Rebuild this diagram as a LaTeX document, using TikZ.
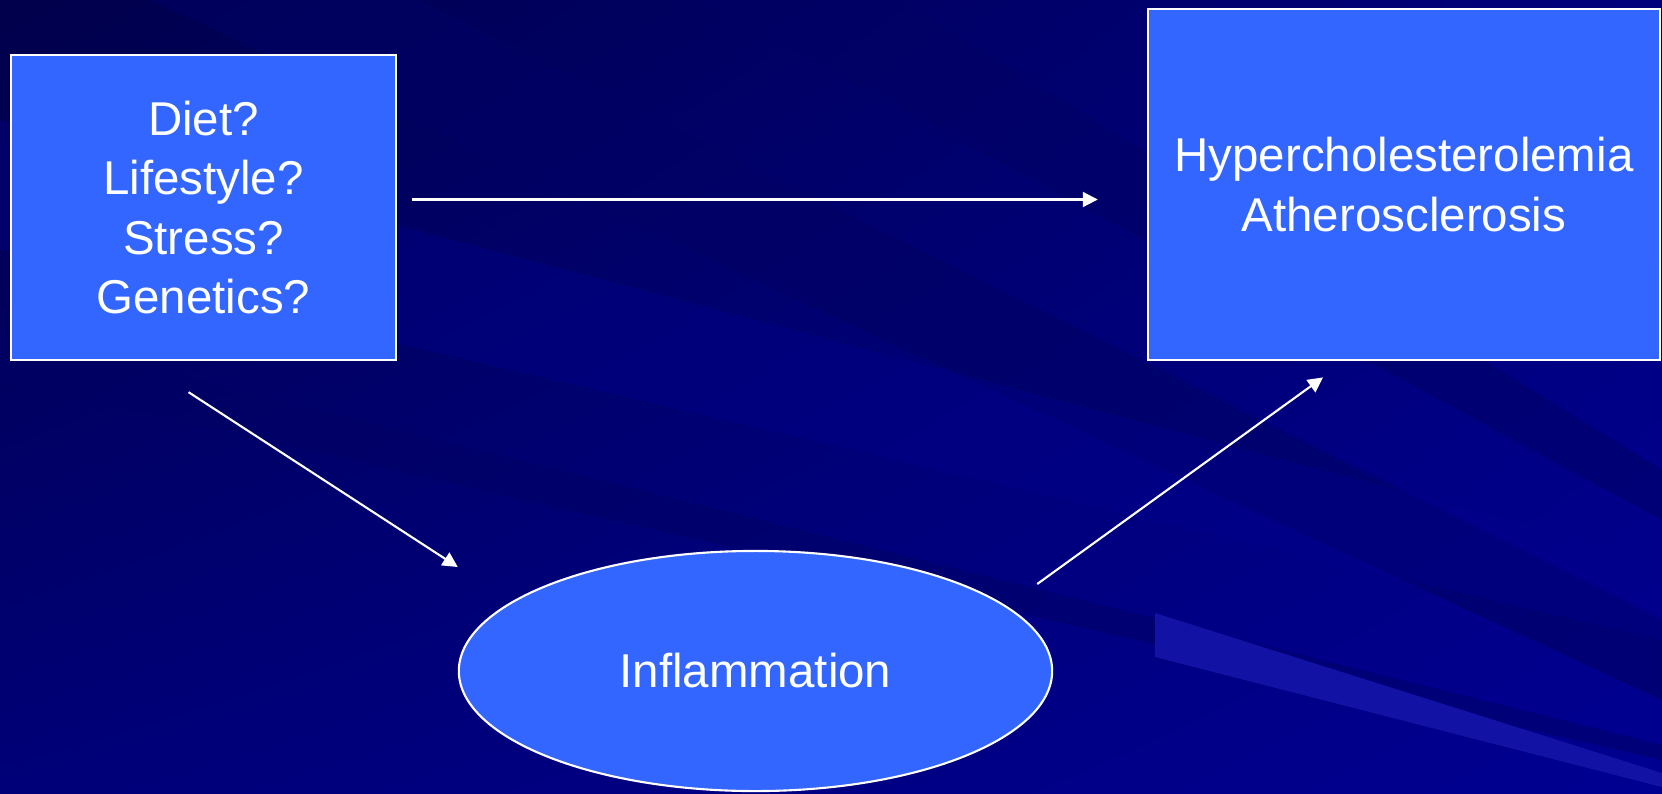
\documentclass[tikz,border=0pt]{standalone}
\usepackage{fontspec}
\setmainfont{Liberation Sans}
\usepackage{xcolor}
\usepackage{tikz}
\usetikzlibrary{arrows.meta}
\usetikzlibrary{shapes.geometric}
\usetikzlibrary{shadings}
\usetikzlibrary{calc}

\definecolor{slidebg}{RGB}{0,0,140}
\definecolor{bgtl}{RGB}{0,0,75}
\definecolor{bgtr}{RGB}{0,0,125}
\definecolor{bgbl}{RGB}{0,0,120}
\definecolor{bgbr}{RGB}{0,0,145}
\definecolor{streakdark}{RGB}{0,0,100}
\definecolor{streaklight}{RGB}{18,18,165}
\definecolor{boxblue}{RGB}{51,102,255}

\begin{document}
\begin{tikzpicture}[x=0.01cm,y=-0.01cm,
	box/.style={draw=white,line width=0.6pt,fill=boxblue,text=white,align=center,inner sep=0pt,font=\fontsize{13.5pt}{16.8pt}\selectfont},
	arr/.style={draw=white,line width=0.6pt,-{Triangle[length=0.15cm,width=0.15cm]}}]
	% background
	\shade[upper left=bgtl,upper right=bgtr,lower left=bgbl,lower right=bgbr]
		(0,0) rectangle (1662,793);
	\useasboundingbox (0,0) rectangle (1662,793);
	\fill[streakdark,opacity=0.6] (150,0) -- (420,0) -- (1662,620) -- (1662,700) -- cycle;
	\fill[streakdark,opacity=0.5] (0,330) -- (1662,745) -- (1662,760) -- (0,380) -- cycle;
	\fill[streakdark,opacity=0.5] (700,0) -- (900,0) -- (1662,470) -- (1662,520) -- cycle;
	\fill[slidebg,opacity=0.4] (0,120) -- (1662,560) -- (1662,640) -- (0,250) -- cycle;
	\fill[streaklight] (1155,613) -- (1662,773) -- (1662,787) -- (1155,657) -- cycle;
	% nodes
	\node[box,shape=rectangle,minimum width=3.85cm,minimum height=3.05cm] (factors) at (203.5,207.5) {Diet?\\Lifestyle?\\Stress?\\Genetics?};
	\node[box,shape=rectangle,minimum width=5.12cm,minimum height=3.515cm] (disease) at (1404,184.5) {Hypercholesterolemia\\Atherosclerosis};
	\node[box,shape=ellipse,minimum width=5.93cm,minimum height=2.40cm] (inflam) at (755.5,671) {Inflammation};
	% connectors
	\draw[arr] ($(factors.east)+(15,-8)$) -- ($(disease.west)+(-49,15)$);
	\draw[arr] ($(factors.south)+(-15,31)$) -- ($(inflam.west)+(0,-104)$);
	\draw[arr] ($(inflam.east)+(-16,-87)$) -- ($(disease.south)+(-81,16)$);
\end{tikzpicture}
\end{document}
